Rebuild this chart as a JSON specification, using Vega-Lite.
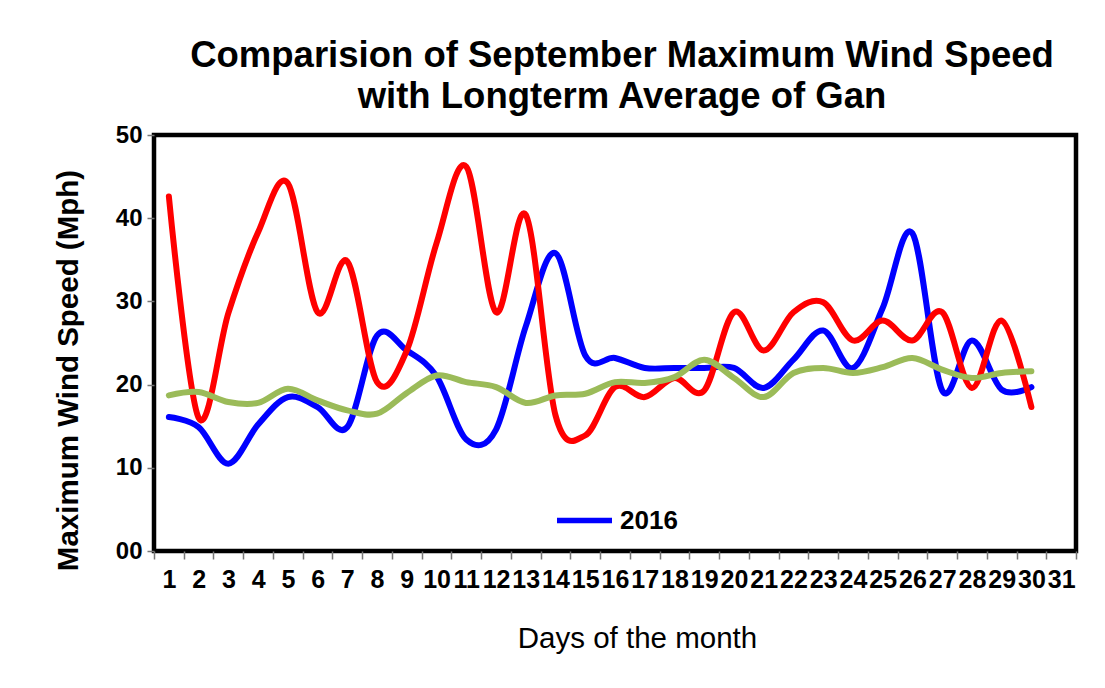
{
  "$schema": "https://vega.github.io/schema/vega-lite/v6.json",
  "autosize": {"type": "none"},
  "width": 922,
  "height": 416,
  "padding": {"left": 154, "top": 135, "right": 29, "bottom": 137},
  "background": "white",
  "config": {
    "view": {"stroke": "black", "strokeWidth": 4.5},
    "font": "Liberation Sans"
  },
  "title": {
    "text": ["Comparision of September Maximum Wind Speed", "with Longterm Average of Gan"],
    "font": "Liberation Sans",
    "fontSize": 36.5,
    "fontWeight": "bold",
    "color": "black",
    "anchor": "middle",
    "dx": 7,
    "lineHeight": 41,
    "offset": 8
  },
  "data": {
    "values": [
      {"day": 1, "series": "2016", "speed": 16.1},
      {"day": 2, "series": "2016", "speed": 14.9},
      {"day": 3, "series": "2016", "speed": 10.5},
      {"day": 4, "series": "2016", "speed": 15.2},
      {"day": 5, "series": "2016", "speed": 18.5},
      {"day": 6, "series": "2016", "speed": 17.3},
      {"day": 7, "series": "2016", "speed": 14.9},
      {"day": 8, "series": "2016", "speed": 25.9},
      {"day": 9, "series": "2016", "speed": 24.1},
      {"day": 10, "series": "2016", "speed": 21.0},
      {"day": 11, "series": "2016", "speed": 13.4},
      {"day": 12, "series": "2016", "speed": 14.6},
      {"day": 13, "series": "2016", "speed": 27.0},
      {"day": 14, "series": "2016", "speed": 35.8},
      {"day": 15, "series": "2016", "speed": 23.5},
      {"day": 16, "series": "2016", "speed": 23.2},
      {"day": 17, "series": "2016", "speed": 22.0},
      {"day": 18, "series": "2016", "speed": 22.0},
      {"day": 19, "series": "2016", "speed": 22.0},
      {"day": 20, "series": "2016", "speed": 22.0},
      {"day": 21, "series": "2016", "speed": 19.6},
      {"day": 22, "series": "2016", "speed": 23.0},
      {"day": 23, "series": "2016", "speed": 26.5},
      {"day": 24, "series": "2016", "speed": 22.0},
      {"day": 25, "series": "2016", "speed": 29.2},
      {"day": 26, "series": "2016", "speed": 38.2},
      {"day": 27, "series": "2016", "speed": 19.3},
      {"day": 28, "series": "2016", "speed": 25.3},
      {"day": 29, "series": "2016", "speed": 19.4},
      {"day": 30, "series": "2016", "speed": 19.7},
      {"day": 1, "series": "Other year", "speed": 42.6},
      {"day": 2, "series": "Other year", "speed": 16.0},
      {"day": 3, "series": "Other year", "speed": 28.6},
      {"day": 4, "series": "Other year", "speed": 38.3},
      {"day": 5, "series": "Other year", "speed": 44.2},
      {"day": 6, "series": "Other year", "speed": 28.7},
      {"day": 7, "series": "Other year", "speed": 34.8},
      {"day": 8, "series": "Other year", "speed": 20.3},
      {"day": 9, "series": "Other year", "speed": 24.1},
      {"day": 10, "series": "Other year", "speed": 37.0},
      {"day": 11, "series": "Other year", "speed": 46.2},
      {"day": 12, "series": "Other year", "speed": 28.7},
      {"day": 13, "series": "Other year", "speed": 40.4},
      {"day": 14, "series": "Other year", "speed": 16.3},
      {"day": 15, "series": "Other year", "speed": 13.9},
      {"day": 16, "series": "Other year", "speed": 19.7},
      {"day": 17, "series": "Other year", "speed": 18.5},
      {"day": 18, "series": "Other year", "speed": 20.8},
      {"day": 19, "series": "Other year", "speed": 19.3},
      {"day": 20, "series": "Other year", "speed": 28.7},
      {"day": 21, "series": "Other year", "speed": 24.1},
      {"day": 22, "series": "Other year", "speed": 28.7},
      {"day": 23, "series": "Other year", "speed": 29.9},
      {"day": 24, "series": "Other year", "speed": 25.3},
      {"day": 25, "series": "Other year", "speed": 27.7},
      {"day": 26, "series": "Other year", "speed": 25.3},
      {"day": 27, "series": "Other year", "speed": 28.7},
      {"day": 28, "series": "Other year", "speed": 19.6},
      {"day": 29, "series": "Other year", "speed": 27.7},
      {"day": 30, "series": "Other year", "speed": 17.3},
      {"day": 1, "series": "Longterm average", "speed": 18.7},
      {"day": 2, "series": "Longterm average", "speed": 19.1},
      {"day": 3, "series": "Longterm average", "speed": 17.9},
      {"day": 4, "series": "Longterm average", "speed": 17.8},
      {"day": 5, "series": "Longterm average", "speed": 19.5},
      {"day": 6, "series": "Longterm average", "speed": 18.1},
      {"day": 7, "series": "Longterm average", "speed": 16.9},
      {"day": 8, "series": "Longterm average", "speed": 16.5},
      {"day": 9, "series": "Longterm average", "speed": 19.0},
      {"day": 10, "series": "Longterm average", "speed": 21.1},
      {"day": 11, "series": "Longterm average", "speed": 20.3},
      {"day": 12, "series": "Longterm average", "speed": 19.7},
      {"day": 13, "series": "Longterm average", "speed": 17.8},
      {"day": 14, "series": "Longterm average", "speed": 18.7},
      {"day": 15, "series": "Longterm average", "speed": 18.9},
      {"day": 16, "series": "Longterm average", "speed": 20.3},
      {"day": 17, "series": "Longterm average", "speed": 20.2},
      {"day": 18, "series": "Longterm average", "speed": 20.9},
      {"day": 19, "series": "Longterm average", "speed": 23.0},
      {"day": 20, "series": "Longterm average", "speed": 20.8},
      {"day": 21, "series": "Longterm average", "speed": 18.5},
      {"day": 22, "series": "Longterm average", "speed": 21.4},
      {"day": 23, "series": "Longterm average", "speed": 22.0},
      {"day": 24, "series": "Longterm average", "speed": 21.4},
      {"day": 25, "series": "Longterm average", "speed": 22.1},
      {"day": 26, "series": "Longterm average", "speed": 23.2},
      {"day": 27, "series": "Longterm average", "speed": 21.8},
      {"day": 28, "series": "Longterm average", "speed": 20.8},
      {"day": 29, "series": "Longterm average", "speed": 21.4},
      {"day": 30, "series": "Longterm average", "speed": 21.6}
    ]
  },
  "mark": {"type": "line", "interpolate": "cardinal", "tension": 0, "strokeWidth": 6, "strokeCap": "round", "strokeJoin": "round"},
  "encoding": {
    "x": {
      "field": "day",
      "type": "ordinal",
      "bandPosition": 0.5,
      "scale": {"type": "band", "domain": [1,2,3,4,5,6,7,8,9,10,11,12,13,14,15,16,17,18,19,20,21,22,23,24,25,26,27,28,29,30,31], "paddingInner": 0, "paddingOuter": 0},
      "axis": {
        "title": "Days of the month",
        "titleFont": "Liberation Sans",
        "titleFontSize": 29.5,
        "titleFontWeight": "normal",
        "titleColor": "black",
        "titleX": 483,
        "titleY": 96,
        "titleBaseline": "alphabetic",
        "titleAnchor": null,
        "labelAngle": 0,
        "labelFont": "Liberation Sans",
        "labelFontSize": 25,
        "labelFontWeight": "bold",
        "labelColor": "black",
        "labelOverlap": false,
        "labelPadding": 8,
        "labelBound": false,
        "labelFlush": false,
        "tickBand": "extent",
        "tickSize": 8,
        "tickColor": "#777777",
        "tickWidth": 1.5,
        "domain": false,
        "grid": false
      }
    },
    "y": {
      "field": "speed",
      "type": "quantitative",
      "scale": {"domain": [0, 50], "nice": false},
      "axis": {
        "title": "Maximum Wind Speed (Mph)",
        "titleFont": "Liberation Sans",
        "titleFontSize": 29.5,
        "titleFontWeight": "bold",
        "titleColor": "black",
        "titleX": -71,
        "titleY": 235,
        "titleAngle": 270,
        "titleBaseline": "bottom",
        "titleAlign": "center",
        "values": [0, 10, 20, 30, 40, 50],
        "labelExpr": "datum.value == 0 ? '00' : datum.label",
        "labelFont": "Liberation Sans",
        "labelFontSize": 24,
        "labelFontWeight": "bold",
        "labelColor": "black",
        "labelPadding": 5,
        "tickSize": 7,
        "tickColor": "#777777",
        "tickWidth": 1.5,
        "domain": false,
        "grid": false
      }
    },
    "color": {
      "field": "series",
      "type": "nominal",
      "sort": null,
      "scale": {"domain": ["2016", "Other year", "Longterm average"], "range": ["#0000FF", "#FF0000", "#9BBB59"]},
      "legend": {
        "values": ["2016"],
        "title": null,
        "orient": "none",
        "legendX": 400,
        "legendY": 355,
        "symbolType": "stroke",
        "symbolSize": 3025,
        "symbolStrokeWidth": 5.5,
        "labelFont": "Liberation Sans",
        "labelFontSize": 26,
        "labelFontWeight": "bold",
        "labelColor": "black",
        "labelOffset": 5
      }
    }
  }
}
